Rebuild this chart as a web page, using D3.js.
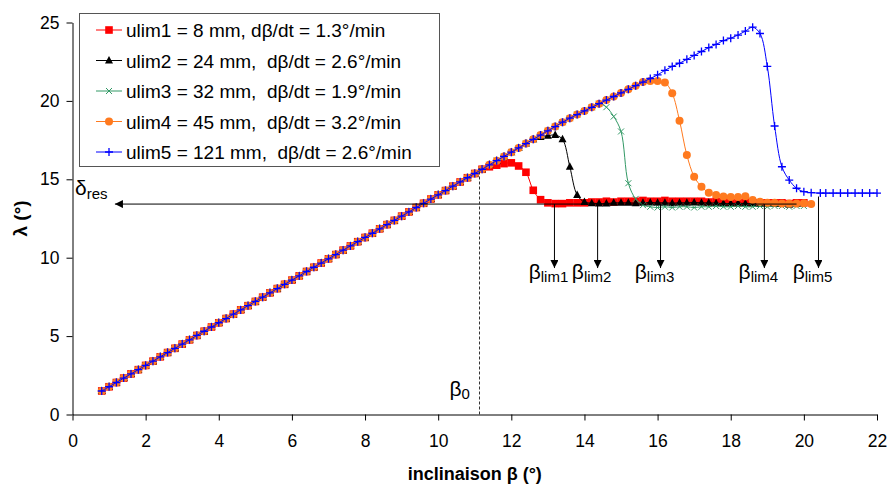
<!DOCTYPE html>
<html>
<head>
<meta charset="utf-8">
<script src="https://cdn.jsdelivr.net/npm/d3@7"></script>
<style>
    body { margin: 0; background: #fff; }
    svg text { font-family: "Liberation Sans", Arial, sans-serif; }
</style>
</head>
<body>
<div id="chart"></div>
<script>

// Shared rising part (all five runs overlap here)
let rampBeta = [0.8, 1.0, 1.2, 1.4, 1.6, 1.8, 2.0, 2.2, 2.4, 2.6, 2.8, 3.0, 3.2, 3.4, 3.6, 3.8, 4.0, 4.2, 4.4, 4.6,
    4.8, 5.0, 5.2, 5.4, 5.6, 5.8, 6.0, 6.2, 6.4, 6.6, 6.8, 7.0, 7.2, 7.4, 7.6, 7.8, 8.0, 8.2, 8.4, 8.6,
    8.8, 9.0, 9.2, 9.4, 9.6, 9.8, 10.0, 10.2, 10.4, 10.6, 10.8, 11.0, 11.2, 11.4, 11.6, 11.8, 12.0, 12.2, 12.4, 12.6,
    12.8, 13.0, 13.2, 13.4, 13.6, 13.8, 14.0, 14.2, 14.4, 14.6, 14.8, 15.0, 15.2, 15.4, 15.6, 15.8, 16.0, 16.2, 16.4, 16.6,
    16.8, 17.0, 17.2, 17.4, 17.6, 17.8, 18.0, 18.2, 18.4, 18.6];
let rampLambda = [1.50, 1.77, 2.04, 2.32, 2.59, 2.86, 3.13, 3.40, 3.68, 3.95, 4.22, 4.49, 4.76, 5.04, 5.31, 5.58, 5.85, 6.12, 6.40, 6.67,
    6.94, 7.21, 7.48, 7.76, 8.03, 8.30, 8.57, 8.84, 9.12, 9.39, 9.66, 9.93, 10.20, 10.48, 10.75, 11.02, 11.29, 11.56, 11.84, 12.11,
    12.38, 12.65, 12.92, 13.20, 13.47, 13.74, 14.01, 14.28, 14.56, 14.83, 15.10, 15.37, 15.64, 15.92, 16.19, 16.46, 16.73, 17.00, 17.28, 17.55,
    17.82, 18.09, 18.36, 18.64, 18.90, 19.13, 19.36, 19.59, 19.82, 20.05, 20.28, 20.51, 20.74, 20.97, 21.20, 21.43, 21.66, 21.95, 22.20, 22.40,
    22.65, 22.90, 23.15, 23.40, 23.60, 23.85, 24.00, 24.20, 24.45, 24.70];

// how many ramp points each run keeps before its own tail
let rampCount = [53, 60, 69, 75, 90];

// tails after leaving the ramp
let tailBeta1 = [11.4, 11.6, 11.8, 12.0, 12.2, 12.4, 12.6, 12.8, 13.0, 13.2, 13.4, 13.6, 13.8, 14.0, 14.2, 14.4, 14.6, 14.8, 15.0, 15.2,
    15.4, 15.6, 15.8, 16.0, 16.2, 16.4, 16.6, 16.8, 17.0, 17.2, 17.4, 17.6, 17.8, 18.0, 18.2, 18.4, 18.6, 18.8, 19.0, 19.2,
    19.4, 19.6, 19.8, 20.0];
let tailLambda1 = [15.8, 15.9, 16.0, 16.05, 15.85, 15.45, 14.3, 13.7, 13.5, 13.45, 13.45, 13.5, 13.5, 13.5, 13.55, 13.55, 13.6, 13.55, 13.6, 13.6,
    13.6, 13.65, 13.6, 13.6, 13.65, 13.6, 13.6, 13.6, 13.6, 13.6, 13.55, 13.6, 13.55, 13.55, 13.5, 13.55, 13.5, 13.5, 13.5, 13.5,
    13.5, 13.45, 13.5, 13.5];

let tailBeta2 = [12.8, 13.0, 13.2, 13.4, 13.6, 13.8, 14.0, 14.2, 14.4, 14.6, 14.8, 15.0, 15.2, 15.4, 15.6, 15.8, 16.0, 16.2, 16.4, 16.6,
    16.8, 17.0, 17.2, 17.4, 17.6, 17.8, 18.0, 18.2, 18.4, 18.6, 18.8, 19.0, 19.2, 19.4, 19.6, 19.8];
let tailLambda2 = [17.7, 17.78, 17.82, 17.55, 15.8, 14.0, 13.55, 13.48, 13.45, 13.45, 13.5, 13.5, 13.5, 13.48, 13.5, 13.52, 13.5, 13.5, 13.48, 13.5,
    13.5, 13.52, 13.5, 13.5, 13.48, 13.45, 13.45, 13.48, 13.45, 13.45, 13.42, 13.45, 13.42, 13.42, 13.4, 13.42];

let tailBeta3 = [14.6, 14.8, 15.0, 15.2, 15.4, 15.6, 15.8, 16.0, 16.2, 16.4, 16.6, 16.8, 17.0, 17.2, 17.4, 17.6, 17.8, 18.0, 18.2, 18.4,
    18.6, 18.8, 19.0, 19.2, 19.4, 19.6, 19.8, 20.0];
let tailLambda3 = [19.6, 19.0, 18.05, 14.75, 13.75, 13.35, 13.25, 13.2, 13.25, 13.2, 13.25, 13.25, 13.2, 13.25, 13.25, 13.3, 13.25, 13.25, 13.3, 13.25,
    13.25, 13.3, 13.25, 13.3, 13.3, 13.25, 13.3, 13.3];

let tailBeta4 = [15.8, 16.0, 16.2, 16.4, 16.6, 16.8, 17.0, 17.2, 17.4, 17.6, 17.8, 18.0, 18.2, 18.4, 18.6, 18.8, 19.0, 19.2, 19.4, 19.6,
    19.8, 20.0, 20.2];
let tailLambda4 = [21.27, 21.27, 21.18, 20.48, 18.74, 16.55, 15.17, 14.53, 14.15, 14.0, 13.9, 13.87, 13.87, 13.92, 13.68, 13.57, 13.5, 13.5, 13.45, 13.45,
    13.45, 13.47, 13.42];

let tailBeta5 = [18.8, 19.0, 19.2, 19.4, 19.6, 19.8, 20.0, 20.2, 20.45, 20.6, 20.8, 21.0, 21.2, 21.4, 21.6, 21.8, 22.0];
let tailLambda5 = [24.3, 22.2, 18.4, 15.8, 14.95, 14.43, 14.21, 14.15, 14.12, 14.12, 14.12, 14.12, 14.12, 14.12, 14.12, 14.12, 14.12];

let seriesNames = ["ulim1 = 8 mm, dβ/dt = 1.3°/min", "ulim2 = 24 mm,  dβ/dt = 2.6°/min", "ulim3 = 32 mm,  dβ/dt = 1.9°/min",
    "ulim4 = 45 mm,  dβ/dt = 3.2°/min", "ulim5 = 121 mm,  dβ/dt = 2.6°/min"];

// tick labels
let xTicks = [0, 2, 4, 6, 8, 10, 12, 14, 16, 18, 20, 22];
let yTicks = [0, 5, 10, 15, 20, 25];

// annotations
let deltaRes = 13.42, deltaFrom = 19.8, deltaTo = 1.16;
let beta0 = 11.13, beta0Top = 15.7;
let limBeta = [13.18, 14.36, 16.08, 18.92, 20.4];
let limTop = [13.42, 13.42, 13.42, 13.42, 13.9];
let limBottom = 9.34;
let limNames = ["lim1", "lim2", "lim3", "lim4", "lim5"];


let tails = [[tailBeta1, tailLambda1], [tailBeta2, tailLambda2], [tailBeta3, tailLambda3], [tailBeta4, tailLambda4], [tailBeta5, tailLambda5]];
let colors = ["#ff0000", "#000000", "#339966", "#ff7a1f", "#0000ff"];
let shapes = ["square", "triangle", "cross", "circle", "plus"];

let series = tails.map(function (t, i) {
    let pts = d3.zip(rampBeta.slice(0, rampCount[i]), rampLambda.slice(0, rampCount[i]));
    return pts.concat(d3.zip(t[0], t[1]));
});

let width = 888, height = 485;

let SVG = d3.select("#chart")
    .append("svg")
    .attr("width", width)
    .attr("height", height);

let x = d3.scaleLinear().domain([0, 22]).range([72.5, 877]);
let y = d3.scaleLinear().domain([0, 25]).range([414.5, 22.5]);

// arrow head
SVG.append("defs").append("marker")
    .attr("id", "head")
    .attr("viewBox", "0 0 10 10")
    .attr("refX", 10).attr("refY", 5)
    .attr("markerWidth", 9).attr("markerHeight", 8)
    .attr("markerUnits", "userSpaceOnUse")
    .attr("orient", "auto")
    .append("path")
    .attr("d", "M0,0 L10,5 L0,10 Z")
    .attr("fill", "#000");

// X axis
SVG.append("g")
    .attr("transform", "translate(0," + y(0) + ")")
    .call(d3.axisBottom(x).tickValues(xTicks).tickSizeInner(6).tickSizeOuter(0).tickPadding(14).tickFormat(d3.format("d")));

// Y axis
SVG.append("g")
    .attr("transform", "translate(" + x(0) + ",0)")
    .call(d3.axisLeft(y).tickValues(yTicks).tickSizeInner(6).tickSizeOuter(0).tickPadding(7).tickFormat(d3.format("d")));

SVG.selectAll(".tick text").style("font-size", "17.5px").style("font-family", "Liberation Sans, Arial, sans-serif").attr("fill", "#000");
SVG.selectAll(".domain, .tick line").attr("stroke", "#000");

// axis titles
SVG.append("text")
    .attr("x", (x(0) + x(22)) / 2)
    .attr("y", 480)
    .attr("text-anchor", "middle")
    .style("font-size", "18px")
    .style("font-weight", "bold")
    .text("inclinaison β (°)");

SVG.append("text")
    .attr("transform", "translate(27," + (y(0) + y(25)) / 2 + ") rotate(-90)")
    .attr("text-anchor", "middle")
    .style("font-size", "19px")
    .style("font-weight", "bold")
    .text("λ (°)");


// marker shapes
function drawMarker(g, shape, cx, cy, color) {
    if (shape === "square") {
        g.append("rect").attr("x", cx - 3.8).attr("y", cy - 3.8).attr("width", 7.6).attr("height", 7.6).attr("fill", color);
    } else if (shape === "triangle") {
        g.append("path").attr("d", "M" + cx + "," + (cy - 4.5) + " L" + (cx + 4) + "," + (cy + 3) + " L" + (cx - 4) + "," + (cy + 3) + " Z").attr("fill", color);
    } else if (shape === "cross") {
        g.append("path").attr("d", "M" + (cx - 3) + "," + (cy - 3) + " L" + (cx + 3) + "," + (cy + 3) + " M" + (cx - 3) + "," + (cy + 3) + " L" + (cx + 3) + "," + (cy - 3))
            .attr("stroke", color).attr("stroke-width", 1).attr("fill", "none");
    } else if (shape === "circle") {
        g.append("circle").attr("cx", cx).attr("cy", cy).attr("r", 4).attr("fill", color);
    } else {
        g.append("path").attr("d", "M" + (cx - 4) + "," + cy + " L" + (cx + 4) + "," + cy + " M" + cx + "," + (cy - 4) + " L" + cx + "," + (cy + 4))
            .attr("stroke", color).attr("stroke-width", 1.3).attr("fill", "none");
    }
}

let line = d3.line()
    .x(function (d) { return x(d[0]); })
    .y(function (d) { return y(d[1]); })
    .curve(d3.curveCatmullRom.alpha(0.5));

// series
series.forEach(function (pts, i) {
    let g = SVG.append("g");
    g.append("path")
        .attr("d", line(pts))
        .attr("fill", "none")
        .attr("stroke", colors[i])
        .attr("stroke-width", 1);
    pts.forEach(function (d) {
        drawMarker(g, shapes[i], x(d[0]), y(d[1]), colors[i]);
    });
});

// delta res arrow
SVG.append("line")
    .attr("x1", x(deltaFrom)).attr("y1", y(deltaRes))
    .attr("x2", x(deltaTo)).attr("y2", y(deltaRes))
    .attr("stroke", "#000").attr("stroke-width", 1)
    .attr("marker-end", "url(#head)");

let dres = SVG.append("text").attr("x", 75).attr("y", 195).style("font-size", "21px");
dres.append("tspan").text("δ");
dres.append("tspan").attr("dy", 4).style("font-size", "15px").text("res");

// beta0 dashed line
SVG.append("line")
    .attr("x1", x(beta0)).attr("y1", y(0))
    .attr("x2", x(beta0)).attr("y2", y(beta0Top))
    .attr("stroke", "#333").attr("stroke-width", 1)
    .attr("stroke-dasharray", "3,2");

let b0 = SVG.append("text").attr("x", x(beta0) - 30).attr("y", 396).style("font-size", "21px");
b0.append("tspan").text("β");
b0.append("tspan").attr("dy", 3).style("font-size", "15px").text("0");

// beta lim arrows
limBeta.forEach(function (b, i) {
    SVG.append("line")
        .attr("x1", x(b)).attr("y1", y(limTop[i]))
        .attr("x2", x(b)).attr("y2", y(limBottom))
        .attr("stroke", "#000").attr("stroke-width", 1)
        .attr("marker-end", "url(#head)");
    let t = SVG.append("text")
        .attr("x", x(b) - 6).attr("y", 279)
        .attr("text-anchor", "middle")
        .style("font-size", "21px");
    t.append("tspan").text("β");
    t.append("tspan").attr("dy", 3).style("font-size", "15px").text(limNames[i]);
});

// legend
let legend = SVG.append("g");
legend.append("rect")
    .attr("x", 79.5).attr("y", 13.5)
    .attr("width", 360).attr("height", 153)
    .attr("fill", "#fff")
    .attr("stroke", "#555").attr("stroke-width", 1);

seriesNames.forEach(function (name, i) {
    let cy = 30 + i * 30.5;
    legend.append("line")
        .attr("x1", 96).attr("x2", 122).attr("y1", cy).attr("y2", cy)
        .attr("stroke", colors[i]).attr("stroke-width", 1);
    drawMarker(legend, shapes[i], 109, cy, colors[i]);
    legend.append("text")
        .attr("x", 126).attr("y", cy + 7)
        .attr("xml:space", "preserve")
        .style("white-space", "pre")
        .style("font-size", "19px")
        .text(name);
});

</script>
</body>
</html>
